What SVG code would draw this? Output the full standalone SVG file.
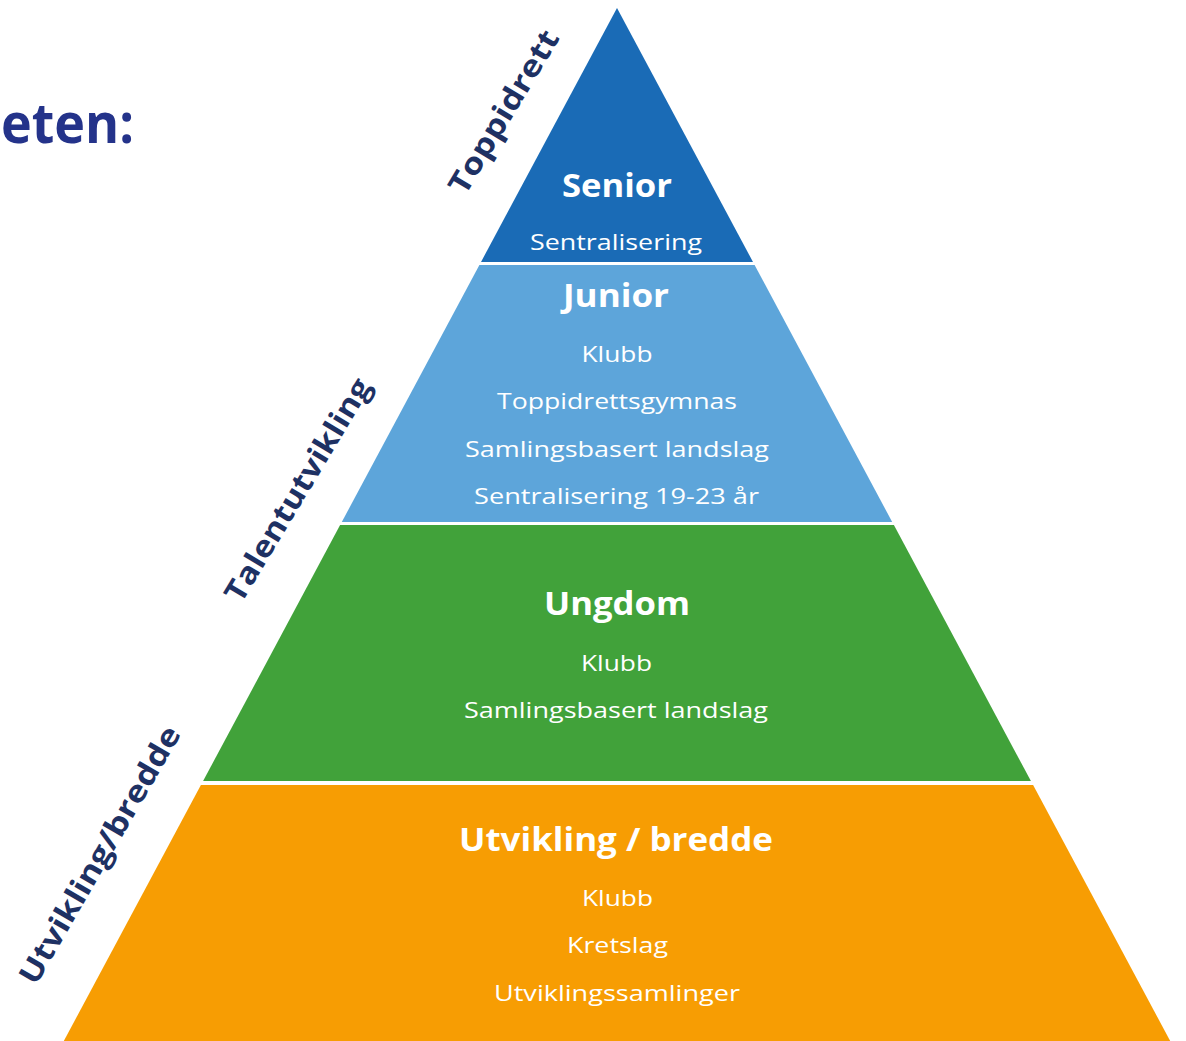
<svg xmlns="http://www.w3.org/2000/svg" width="1186" height="1041" viewBox="0 0 1186 1041">
<style>
.body{font-family:"Open Sans","Noto Sans","Liberation Sans",sans-serif;font-size:22px;fill:#ffffff;text-anchor:middle}
.head{font-family:"Open Sans","Noto Sans","Liberation Sans",sans-serif;font-size:32px;font-weight:bold;fill:#ffffff;text-anchor:middle}
.side{font-family:"Open Sans","Noto Sans","Liberation Sans",sans-serif;font-size:30px;font-weight:bold;fill:#1e3163;text-anchor:middle}
</style>
<rect width="1186" height="1041" fill="#ffffff"/>
<g id="title">
<text x="1" y="143" font-family="'Open Sans','Noto Sans','Liberation Sans',sans-serif" font-size="56" font-weight="bold" fill="#24338a" textLength="133" lengthAdjust="spacingAndGlyphs">eten:</text>
</g>
<g id="senior">
<polygon points="617,8 753,262 481,262" fill="#1a6bb6"/>
<text class="head" x="617" y="197" textLength="110" lengthAdjust="spacingAndGlyphs">Senior</text>
<text class="body" x="616" y="250" textLength="172" lengthAdjust="spacingAndGlyphs">Sentralisering</text>
</g>
<g id="junior">
<polygon points="479.4,265 754.6,265 892.2,522 341.8,522" fill="#5da5da"/>
<text class="head" x="616" y="307" textLength="106" lengthAdjust="spacingAndGlyphs">Junior</text>
<text class="body" x="617" y="362" textLength="71" lengthAdjust="spacingAndGlyphs">Klubb</text>
<text class="body" x="617" y="409" textLength="240" lengthAdjust="spacingAndGlyphs">Toppidrettsgymnas</text>
<text class="body" x="617" y="457" textLength="304" lengthAdjust="spacingAndGlyphs">Samlingsbasert landslag</text>
<text class="body" x="616.5" y="504" textLength="285" lengthAdjust="spacingAndGlyphs">Sentralisering 19-23 år</text>
</g>
<g id="ungdom">
<polygon points="340.1,525 893.9,525 1030.9,781 203.1,781" fill="#41a23a"/>
<text class="head" x="617" y="615" textLength="146" lengthAdjust="spacingAndGlyphs">Ungdom</text>
<text class="body" x="616.5" y="671" textLength="71" lengthAdjust="spacingAndGlyphs">Klubb</text>
<text class="body" x="616" y="718" textLength="304" lengthAdjust="spacingAndGlyphs">Samlingsbasert landslag</text>
</g>
<g id="utvikling">
<polygon points="200.9,785 1033.1,785 1170.2,1041 63.8,1041" fill="#f79d03"/>
<text class="head" x="616" y="851" textLength="314" lengthAdjust="spacingAndGlyphs">Utvikling / bredde</text>
<text class="body" x="617.5" y="906" textLength="71" lengthAdjust="spacingAndGlyphs">Klubb</text>
<text class="body" x="617.5" y="953" textLength="101" lengthAdjust="spacingAndGlyphs">Kretslag</text>
<text class="body" x="617" y="1001" textLength="246" lengthAdjust="spacingAndGlyphs">Utviklingssamlinger</text>
</g>
<g id="side-labels">
<text class="side" transform="translate(504,112) rotate(-59)" x="0" y="10" textLength="185" lengthAdjust="spacingAndGlyphs">Toppidrett</text>
<text class="side" transform="translate(298,490) rotate(-59)" x="0" y="10" textLength="255" lengthAdjust="spacingAndGlyphs">Talentutvikling</text>
<text class="side" transform="translate(100,855) rotate(-60)" x="0" y="10" textLength="292" lengthAdjust="spacingAndGlyphs">Utvikling/bredde</text>
</g>
</svg>
